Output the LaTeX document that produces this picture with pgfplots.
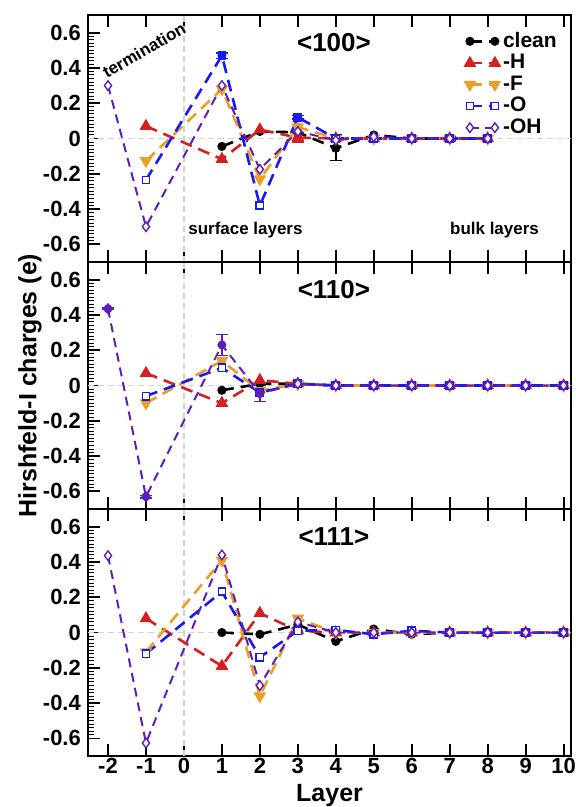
\documentclass[border=0pt]{standalone}
\usepackage{fontspec}
\setmainfont{Liberation Sans}
\usepackage{pgfplots}
\pgfplotsset{compat=1.18}
\usepgfplotslibrary{groupplots}

\definecolor{cH}{RGB}{214,32,32}
\definecolor{cF}{RGB}{232,160,40}
\definecolor{cO}{RGB}{25,25,245}
\definecolor{cOH}{RGB}{95,30,185}

\tikzset{zero/.style={gray!35, dash pattern=on 3pt off 2pt, line width=0.6pt}}
\pgfplotsset{
  ser/.style={line width=1.3pt, dash pattern=on 6pt off 3.5pt},
  clean/.style={ser, black, mark=*, mark size=1.6pt, mark options={solid}},
  hh/.style={ser, cH, mark=triangle*, mark size=2.4pt, mark options={solid}},
  ff/.style={ser, cF, mark=triangle*, mark size=2.4pt, mark options={solid, rotate=180}},
  oo/.style={ser, cO, mark=square*, mark size=1.8pt, mark options={solid, fill=white, line width=0.8pt}},
  ooh/.style={ser, cOH, line width=1pt, dash pattern=on 4.5pt off 3pt, mark=diamond*, mark size=2.4pt, mark options={solid, fill=white, line width=0.7pt}},
  eb/.style={forget plot, only marks, mark=none,
    error bars/.cd, y dir=both, y explicit,
    error bar style={line width=0.7pt, solid},
    error mark options={rotate=90, mark size=3pt, line width=0.7pt, solid}},
}

\begin{document}
\begin{tikzpicture}
\begin{groupplot}[
  group style={group size=1 by 3, vertical sep=0pt,
    xticklabels at=edge bottom, xlabels at=edge bottom},
  width=242pt, height=123.7pt, scale only axis,
  xmin=-2.53, xmax=10.2, ymin=-0.7, ymax=0.7,
  xtick={-2,-1,0,1,2,3,4,5,6,7,8,9,10},
  ytick={-0.6,-0.4,-0.2,0,0.2,0.4,0.6},
  minor y tick num=9,
  ytick pos=left,
  tick align=inside,
  major tick length=6pt, minor tick length=3pt,
  axis line style={line width=1.1pt},
  every tick/.style={black, line width=0.9pt},
  minor tick style={line width=0.5pt},
  tick label style={font=\fontsize{11}{13}\selectfont\bfseries},
  xticklabel style={yshift=2.5pt},
  /pgf/number format/assume math mode=true,
  xlabel style={font=\fontsize{12.5}{14}\selectfont\bfseries, at={(axis description cs:0.5,0)}, anchor=center, yshift=-19.5pt},
  legend image code/.code={\draw[mark repeat=2, mark phase=1, #1] plot coordinates {(0pt,0pt) (6.25pt,0pt) (12.5pt,0pt)};},
]

% <100>
\nextgroupplot[
  legend style={at={(rel axis cs:0.781,0.948)}, anchor=north west, draw=none, fill=none,
    font=\fontsize{10.5}{12}\selectfont\bfseries, row sep=-2pt, inner sep=0pt},
  legend cell align=left,
]
\draw[zero] (axis cs:-2.53,0) -- (axis cs:10.2,0);
\draw[zero] (axis cs:0,-0.7) -- (axis cs:0,0.7);
\pgfplotsinvokeforeach{-0.6,-0.4,-0.2,0,0.2,0.4,0.6}{\draw[line width=0.9pt] (axis cs:10.2,#1) -- ++(-5pt,0);}
\addplot[clean] coordinates {(1,-0.045) (2,0.04) (3,0.035) (4,-0.055) (5,0.02) (6,0) (7,0) (8,0)};
\addplot[black, eb] coordinates {(4,-0.055) += (0,0.075) -= (0,0.07)};
\addplot[hh] coordinates {(-1,0.07) (1,-0.117) (2,0.05) (3,0.005) (4,0) (5,0) (6,0) (7,0) (8,0)};
\addplot[cH, eb] coordinates {(3,0.005) +- (0,0.025)};
\addplot[ff] coordinates {(-1,-0.127) (1,0.28) (2,-0.23) (3,0.065) (4,0) (5,0) (6,0) (7,0) (8,0)};
\addplot[cF, eb] coordinates {(3,0.065) +- (0,0.03)};
\addplot[oo] coordinates {(-1,-0.235) (1,0.47) (2,-0.38) (3,0.12) (4,0) (5,0) (6,0) (7,0) (8,0)};
\addplot[cO, eb] coordinates {(1,0.47) +- (0,0.015) (3,0.12) +- (0,0.01) (7,0) +- (0,0.012)};
\addplot[ooh] coordinates {(-2,0.30) (-1,-0.50) (1,0.30) (2,-0.175) (3,0.04) (4,-0.01) (5,0.01) (6,0) (7,0) (8,0)};
\legend{clean,-H,-F,-O,-OH}
\node[font=\fontsize{13}{15}\selectfont\bfseries] at (axis cs:3.95,0.545) {<100>};
\node[font=\fontsize{8.5}{10}\selectfont\bfseries, rotate=30, inner sep=0pt] at (axis cs:-1.05,0.5) {termination};
\node[font=\fontsize{8.5}{10}\selectfont\bfseries] at (axis cs:1.62,-0.52) {surface layers};
\node[font=\fontsize{8.5}{10}\selectfont\bfseries] at (axis cs:8.18,-0.52) {bulk layers};

% <110>
\nextgroupplot
\draw[zero] (axis cs:-2.53,0) -- (axis cs:10.2,0);
\draw[zero] (axis cs:0,-0.7) -- (axis cs:0,0.7);
\pgfplotsinvokeforeach{-0.6,-0.4,-0.2,0,0.2,0.4,0.6}{\draw[line width=0.9pt] (axis cs:10.2,#1) -- ++(-5pt,0);}
\addplot[clean] coordinates {(1,-0.027) (2,0.01) (3,0.01) (4,0) (5,0) (6,0) (7,0) (8,0) (9,0) (10,0)};
\addplot[hh] coordinates {(-1,0.07) (1,-0.10) (2,0.03) (3,0.01) (4,0) (5,0) (6,0) (7,0) (8,0) (9,0) (10,0)};
\addplot[ff] coordinates {(-1,-0.10) (1,0.14) (2,-0.03) (3,0.01) (4,0) (5,0) (6,0) (7,0) (8,0) (9,0) (10,0)};
\addplot[oo] coordinates {(-1,-0.06) (1,0.10) (2,-0.04) (3,0.01) (4,0) (5,0) (6,0) (7,0) (8,0) (9,0) (10,0)};
\addplot[ooh] coordinates {(-2,0.435) (-1,-0.63) (1,0.23) (2,-0.045) (3,0.01) (4,0) (5,0) (6,0) (7,0) (8,0) (9,0) (10,0)};
\addplot[cOH, eb] coordinates {(-2,0.435) +- (0,0.005) (-1,-0.63) +- (0,0.008) (1,0.23) +- (0,0.06) (2,-0.045) +- (0,0.045)};
\node[font=\fontsize{13}{15}\selectfont\bfseries] at (axis cs:3.95,0.545) {<110>};

% <111>
\nextgroupplot[xlabel={Layer}]
\draw[zero] (axis cs:-2.53,0) -- (axis cs:10.2,0);
\draw[zero] (axis cs:0,-0.7) -- (axis cs:0,0.7);
\pgfplotsinvokeforeach{-0.6,-0.4,-0.2,0,0.2,0.4,0.6}{\draw[line width=0.9pt] (axis cs:10.2,#1) -- ++(-5pt,0);}
\addplot[clean] coordinates {(1,0) (2,-0.01) (3,0.045) (4,-0.05) (5,0.02) (6,-0.01) (7,0) (8,0) (9,0) (10,0)};
\addplot[hh] coordinates {(-1,0.08) (1,-0.19) (2,0.11) (3,0.01) (4,0) (5,0) (6,0) (7,0) (8,0) (9,0) (10,0)};
\addplot[ff] coordinates {(-1,-0.11) (1,0.41) (2,-0.36) (3,0.08) (4,0) (5,0) (6,0) (7,0) (8,0) (9,0) (10,0)};
\addplot[oo] coordinates {(-1,-0.12) (1,0.232) (2,-0.14) (3,0.01) (4,0.015) (5,-0.01) (6,0.01) (7,0) (8,0) (9,0) (10,0)};
\addplot[ooh] coordinates {(-2,0.436) (-1,-0.626) (1,0.44) (2,-0.30) (3,0.06) (4,0) (5,0) (6,0) (7,0) (8,0) (9,0) (10,0)};
\node[font=\fontsize{13}{15}\selectfont\bfseries] at (axis cs:3.95,0.545) {<111>};
\end{groupplot}
\node[xshift=-29pt, rotate=90, inner sep=0pt, font=\fontsize{12.5}{14}\selectfont\bfseries] at (group c1r2.west) {Hirshfeld-I charges (e)};
\path (group c1r1.north west) ++(-44pt,7.5pt) coordinate (bbtl);
\path (group c1r3.south east) ++(2pt,-25.5pt) coordinate (bbbr);
\pgfresetboundingbox
\useasboundingbox (bbtl) rectangle (bbbr);
\end{tikzpicture}
\end{document}
